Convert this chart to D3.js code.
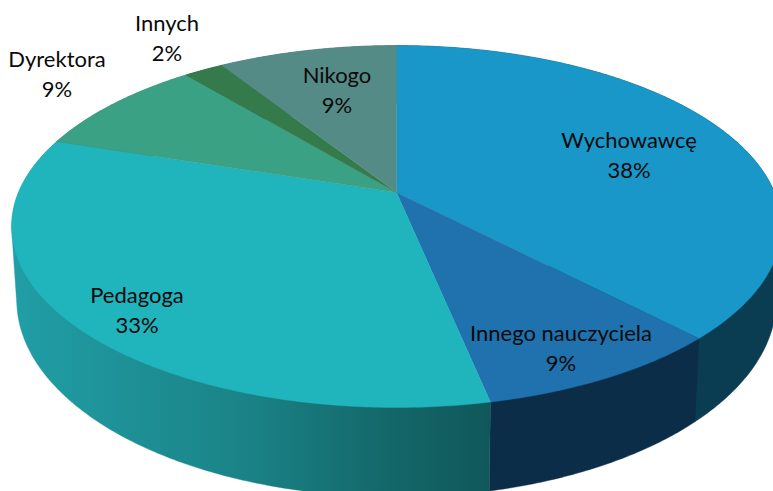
<!DOCTYPE html>
<html>
<head>
<meta charset="utf-8">
<script src="https://cdn.jsdelivr.net/npm/d3@7"></script>
<style>
html,body{margin:0;padding:0;background:#fff;overflow:hidden}
svg{display:block}
text{font-family:Lato,"Open Sans",sans-serif;font-size:22px;fill:#0a0a0a}
</style>
</head>
<body>
<svg id="chart" width="773" height="491"></svg>
<script>
const categories = ["Wychowawcę","Innego nauczyciela","Pedagoga","Dyrektora","Innych","Nikogo"];
const values = [37.85, 8.9, 33.25, 9, 2, 9];
const topColors = ["#1997C8","#1F72AE","#20B4BC","#3AA184","#357A4A","#558B87"];
const wallColors = ["#0A3D51","#0C2D47","url(#pedWall)","#2A7A62","#28593A","#3F6A66"];
const labelAnchors = [[629,141],[561,334],[137,296],[57,60],[167,24],[337,76]];

const svg = d3.select("#chart");

// perspective projection of a flat disc: angle (clockwise from top) -> screen
const persp = 0.188;
const project = (plane, a) => {
  const u = Math.sin(a), v = -Math.cos(a), w = 1 - persp * v;
  return [plane.cx + plane.rx * u / w, plane.ay + plane.ry * v / w];
};
const topPlane = {cx:396.5, ay:192.5, rx:378, ry:174.6};
const botPlane = {cx:396.5, ay:263, rx:373, ry:190};

const arcs = d3.pie().sort(null).value(d => d)(values);
const line = d3.line();
const angleSteps = (s, e) => {
  const n = Math.max(2, Math.ceil((e - s) / 0.01));
  return d3.range(n + 1).map(i => s + (e - s) * i / n);
};

const defs = svg.append("defs");
const grad = defs.append("linearGradient").attr("id","pedWall")
  .attr("gradientUnits","userSpaceOnUse").attr("x1",12).attr("x2",492).attr("y1",0).attr("y2",0);
[[0,"#219EA6"],[0.5,"#1A8286"],[0.75,"#146A6C"],[1,"#10575A"]]
  .forEach(([o,c]) => grad.append("stop").attr("offset",o).attr("stop-color",c));

// walls: convex hull of the upper and lower rim of each slice, the top faces cover the rest
svg.append("g").selectAll("path").data(arcs).join("path")
  .attr("d", d => {
    const as = angleSteps(d.startAngle, d.endAngle);
    const pts = as.map(a => project(topPlane, a)).concat(as.map(a => project(botPlane, a)));
    return line(d3.polygonHull(pts)) + "Z";
  })
  .attr("fill", (d,i) => wallColors[i])
  .attr("stroke", (d,i) => wallColors[i])
  .attr("stroke-width", 0.4);

// top faces
svg.append("g").selectAll("path").data(arcs).join("path")
  .attr("d", d => {
    const rim = angleSteps(d.startAngle, d.endAngle).map(a => project(topPlane, a));
    return line([[topPlane.cx, topPlane.ay]].concat(rim)) + "Z";
  })
  .attr("fill", (d,i) => topColors[i])
  .attr("stroke", (d,i) => topColors[i])
  .attr("stroke-width", 0.4);

// labels
const lab = svg.append("g").selectAll("text").data(arcs).join("text")
  .attr("text-anchor","middle")
  .attr("transform", (d,i) => `translate(${labelAnchors[i][0]},${labelAnchors[i][1]})`);
lab.append("tspan").attr("x",0).attr("y",7).text((d,i) => categories[i]);
lab.append("tspan").attr("x",0).attr("y",37).text(d => Math.round(d.value) + "%");
</script>
</body>
</html>
